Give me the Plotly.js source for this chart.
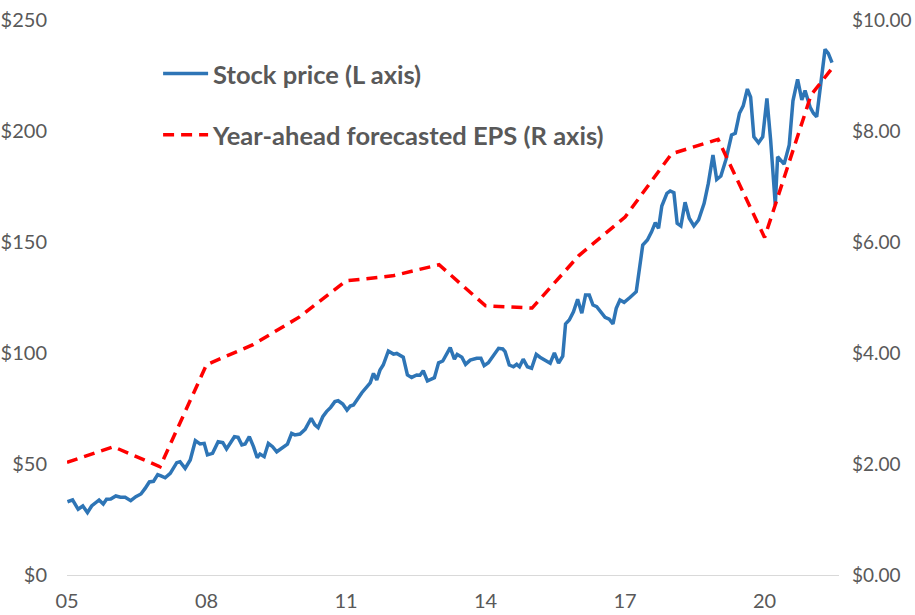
<!DOCTYPE html>
<html>
<head>
<meta charset="utf-8">
<script src="https://cdn.plot.ly/plotly-3.0.1.min.js"></script>
<style>html,body{margin:0;padding:0;background:#fff;}#chart{width:915px;height:615px;}</style>
</head>
<body>
<div id="chart"></div>
<script>
// Stock price (left axis), time in decimal years
const priceTime = [2005.01,2005.12,2005.24,2005.34,2005.44,2005.53,2005.69,2005.78,2005.85,2005.94,
2006.05,2006.15,2006.25,2006.37,2006.48,2006.59,2006.68,2006.77,2006.86,2006.95,
2007.02,2007.11,2007.22,2007.36,2007.43,2007.54,2007.65,2007.76,2007.86,2007.95,
2008.02,2008.13,2008.25,2008.35,2008.43,2008.60,2008.68,2008.76,2008.83,2008.92,
2009.01,2009.09,2009.15,2009.24,2009.33,2009.42,2009.51,2009.64,2009.74,2009.83,2009.90,
2010.01,2010.12,2010.25,2010.33,2010.40,2010.50,2010.58,2010.67,2010.76,2010.83,2010.93,
2011.02,2011.09,2011.16,2011.34,2011.52,2011.59,2011.66,2011.73,2011.80,2011.91,
2012.02,2012.09,2012.23,2012.32,2012.41,2012.52,2012.59,2012.66,2012.75,2012.90,2012.99,
2013.08,2013.24,2013.33,2013.39,2013.49,2013.57,2013.67,2013.81,2013.90,2013.97,
2014.06,2014.17,2014.28,2014.37,2014.42,2014.51,2014.60,2014.67,2014.73,2014.81,2014.90,2014.99,
2015.09,2015.17,2015.39,2015.48,2015.57,2015.66,2015.72,2015.80,2015.89,2015.98,
2016.07,2016.15,2016.23,2016.31,2016.39,2016.57,2016.66,2016.74,2016.81,2016.89,2016.98,
2017.11,2017.24,2017.38,2017.48,2017.57,2017.65,2017.72,2017.79,2017.90,2017.97,
2018.05,2018.12,2018.20,2018.29,2018.38,2018.48,2018.58,2018.70,2018.79,2018.89,2018.97,
2019.06,2019.17,2019.29,2019.37,2019.46,2019.54,2019.63,2019.70,2019.77,2019.87,2019.96,
2020.05,2020.13,2020.23,2020.28,2020.42,2020.53,2020.61,2020.71,2020.80,2020.87,2020.98,
2021.05,2021.12,2021.21,2021.30,2021.37,2021.45];
const priceValues = [33.0,33.8,29.6,31.1,28.1,31.1,33.8,32.0,34.1,34.2,
35.6,35.0,35.0,33.5,35.3,36.5,39.0,41.9,42.2,45.2,
44.6,43.8,45.8,50.6,51.0,48.0,51.8,60.5,59.0,59.3,
54.1,54.8,60.0,59.6,56.8,62.3,62.0,58.6,59.0,62.3,
57.8,52.8,54.5,53.3,59.3,57.8,55.5,57.5,58.9,63.8,63.1,
63.5,65.6,70.6,67.6,66.4,71.3,73.6,75.5,78.1,78.5,77.0,
74.3,76.1,76.6,82.1,86.6,90.8,87.8,92.3,94.6,100.9,
99.5,99.8,98.1,90.1,89.0,90.1,90.0,92.0,87.4,88.9,95.6,
96.4,102.4,97.2,99.4,98.1,94.9,96.8,97.6,97.6,94.3,
95.6,98.6,102.1,101.8,100.6,94.6,93.8,94.9,93.8,97.2,93.8,93.1,
99.4,98.1,95.4,100.1,95.4,98.6,113.1,114.9,118.6,124.2,
117.9,126.1,126.1,121.6,120.9,116.1,115.2,113.1,120.1,123.9,122.8,
125.1,127.6,148.6,150.9,154.6,158.7,156.2,166.2,171.9,173.0,
172.2,158.4,157.2,167.9,160.7,157.2,159.9,167.4,176.4,189.2,178.2,
179.7,187.2,198.2,199.0,208.0,211.3,218.9,215.2,197.4,194.7,197.4,
214.7,195.9,166.7,188.4,185.1,193.7,213.6,223.3,214.0,218.2,210.7,
208.0,206.4,223.0,236.8,235.0,230.8];

// Year-ahead forecasted EPS (right axis)
const epsTime = [2005.0,2006.0,2007.0,2008.0,2009.0,2010.0,2011.0,2012.0,2013.0,2014.0,2015.0,2016.0,2017.0,2018.0,2019.0,2020.0,2021.0,2021.45];
const epsValues = [2.03,2.31,1.95,3.79,4.15,4.65,5.30,5.39,5.59,4.85,4.81,5.75,6.45,7.59,7.85,6.08,8.65,9.13];

// Axis ticks
const xTickVals = [2005,2008,2011,2014,2017,2020];
const xTickText = ['05','08','11','14','17','20'];
const leftTickVals = [0,50,100,150,200,250];
const leftTickText = ['$0','$50','$100','$150','$200','$250'];
const rightTickVals = [0,2,4,6,8,10];
const rightTickText = ['$0.00','$2.00','$4.00','$6.00','$8.00','$10.00'];

const FONT = 'Lato, "Open Sans", sans-serif';
const GRAY = '#595959';

const traces = [
  {x: priceTime, y: priceValues, type: 'scatter', mode: 'lines', name: 'Stock price (L axis)',
   line: {color: '#2E75B6', width: 3.5}, legendgroup: 'a', yaxis: 'y'},
  {x: epsTime, y: epsValues, type: 'scatter', mode: 'lines', name: 'Year-ahead forecasted EPS (R axis)',
   line: {color: '#FF0000', width: 3.5, dash: '11px,7px'}, legendgroup: 'b', yaxis: 'y2'}
];

const layout = {
  width: 915, height: 615,
  margin: {l: 67, r: 76, t: 20, b: 40},
  paper_bgcolor: '#fff', plot_bgcolor: '#fff',
  font: {family: FONT, color: GRAY, size: 20},
  showlegend: true,
  legend: {x: 0.118, y: 0.945, xanchor: 'left', yanchor: 'top', bgcolor: 'rgba(0,0,0,0)',
           font: {family: FONT, size: 25.5, color: GRAY, weight: 'bold'},
           traceorder: 'grouped', tracegroupgap: 25, itemwidth: 45},
  xaxis: {range: [2005, 2021.6], tickvals: xTickVals, ticktext: xTickText,
          showgrid: false, zeroline: false, showline: true, linecolor: '#D9D9D9', linewidth: 1,
          ticks: '', ticklabelstandoff: 8, tickfont: {size: 20, color: GRAY}, fixedrange: true},
  yaxis: {range: [0, 250], tickvals: leftTickVals, ticktext: leftTickText, showgrid: false, zeroline: false,
          showline: false, ticks: '', ticklabelstandoff: 19, tickfont: {size: 20, color: GRAY}},
  yaxis2: {range: [0, 10], tickvals: rightTickVals, ticktext: rightTickText, overlaying: 'y',
           side: 'right', showgrid: false, zeroline: false, showline: false, ticks: '',
           ticklabelstandoff: 12, tickfont: {size: 19, color: GRAY}}
};

Plotly.newPlot('chart', traces, layout, {staticPlot: true, displayModeBar: false});
</script>
</body>
</html>
